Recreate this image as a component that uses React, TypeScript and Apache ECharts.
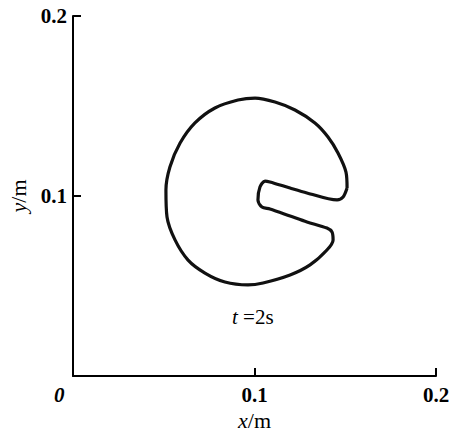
import React, { useEffect, useRef } from "react";
import * as echarts from "echarts";

// Axis ticks (metres)
const axisMin = 0;
const axisMax = 0.2;
const tickStep = 0.1;

// Interface outline at t = 2 s, traced counter-clockwise from the slot's upper corner
const outlineX = [
  0.151, 0.1504, 0.146, 0.1405, 0.1333, 0.1223, 0.1113, 0.1003, 0.0909, 0.0782,
  0.0672, 0.059, 0.0534, 0.0512, 0.0518, 0.0562, 0.0634, 0.0727, 0.0837, 0.0964,
  0.1047, 0.1196, 0.1306, 0.1399, 0.1433, 0.1427, 0.1399, 0.1289, 0.1196, 0.1085,
  0.1041, 0.1019, 0.103, 0.1058, 0.1085, 0.1196, 0.1289, 0.1455, 0.1488, 0.151,
];
const outlineY = [
  0.1044, 0.1133, 0.1239, 0.1328, 0.1406, 0.1478, 0.1522, 0.1544, 0.1533, 0.1489,
  0.1406, 0.1294, 0.1161, 0.1033, 0.0883, 0.0756, 0.0644, 0.0572, 0.0522, 0.0506,
  0.0517, 0.0561, 0.0617, 0.07, 0.0756, 0.08, 0.0822, 0.0856, 0.0889, 0.0928,
  0.0939, 0.0978, 0.105, 0.1083, 0.1078, 0.1044, 0.1017, 0.0978, 0.0994, 0.1044,
];

const timeLabel = "{i|t} =2s";
const xName = "{i|x}/m";
const yName = "{i|y}/m";

const FONT = "'Liberation Serif', 'Times New Roman', serif";

export default function App() {
  const ref = useRef<HTMLDivElement>(null);

  useEffect(() => {
    if (!ref.current) return;
    const chart = echarts.init(ref.current, undefined, { renderer: "svg" });

    const tickLabel = (v: number) => (v === 0 ? "" : String(+v.toFixed(1)));
    const nameRich = {
      i: { fontFamily: FONT, fontStyle: "italic" as const, fontSize: 22, color: "#000" },
    };

    const axisCommon = {
      type: "value" as const,
      min: axisMin,
      max: axisMax,
      interval: tickStep,
      nameLocation: "middle" as const,
      axisLine: { show: true, lineStyle: { color: "#000", width: 2 } },
      axisTick: { show: true, inside: true, length: 8, lineStyle: { color: "#000", width: 2 } },
      splitLine: { show: false },
      nameTextStyle: {
        fontFamily: FONT,
        fontSize: 22,
        color: "#000",
        rich: nameRich,
      },
    };

    const labelStyle = {
      formatter: tickLabel,
      fontFamily: FONT,
      fontWeight: "bold" as const,
      fontSize: 21,
      color: "#000",
      overflow: "none" as const,
    };

    chart.setOption({
      animation: false,
      backgroundColor: "#fff",
      grid: { left: 73, right: 15, top: 16, bottom: 56, outerBoundsMode: "none" },
      xAxis: {
        ...axisCommon,
        name: xName,
        nameGap: 30,
        axisLabel: { ...labelStyle, margin: 8 },
      },
      yAxis: {
        ...axisCommon,
        name: yName,
        nameGap: 40,
        nameRotate: 90,
        axisLabel: { ...labelStyle, margin: 6 },
      },
      graphic: [
        {
          type: "text",
          left: 54,
          top: 384,
          style: {
            text: "0",
            fontFamily: FONT,
            fontWeight: "bold",
            fontStyle: "italic",
            fontSize: 21,
            fill: "#000",
          },
        },
        {
          type: "text",
          left: 232,
          top: 306,
          style: {
            text: timeLabel,
            fontFamily: FONT,
            fontSize: 21,
            fill: "#000",
            rich: {
              i: { fontFamily: FONT, fontStyle: "italic", fontSize: 21, fill: "#000" },
            },
          },
        },
      ],
      series: [
        {
          type: "line",
          data: outlineX.map((x, i) => [x, outlineY[i]]),
          smooth: 0.3,
          symbol: "none",
          lineStyle: { color: "#111", width: 3.2 },
        },
      ],
    });

    return () => chart.dispose();
  }, []);

  return (
    <div style={{ position: "fixed", left: 0, top: 0, width: 451, height: 432 }}>
      <div ref={ref} style={{ width: 451, height: 432 }} />
    </div>
  );
}
